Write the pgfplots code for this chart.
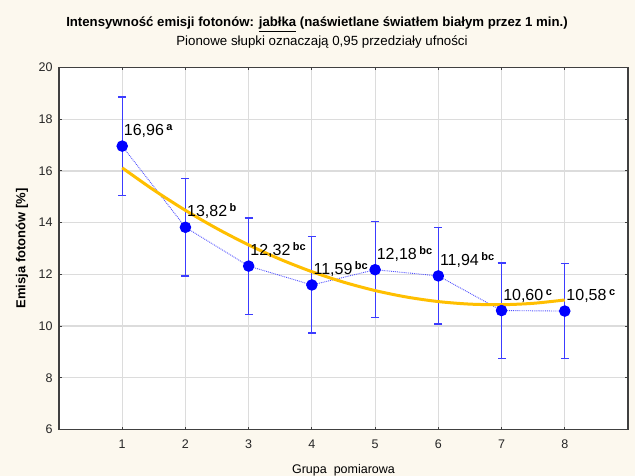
\documentclass[border=0pt]{standalone}
\usepackage{pgfplots}
\pgfplotsset{compat=1.18}
\usepackage{fontspec}
\setmainfont{Liberation Sans}
\definecolor{bg}{HTML}{FCF8EE}
\definecolor{gridc}{HTML}{DCDCDC}
\definecolor{ptblue}{HTML}{0000FF}
\definecolor{barblue}{HTML}{3C3CFF}
\definecolor{dotblue}{HTML}{5050FF}
\definecolor{fitc}{HTML}{FFBF00}
\newcommand{\lab}[2]{#1\hspace{2.5bp}\raisebox{5bp}{\fontsize{11bp}{11bp}\selectfont\bfseries #2}}
\begin{document}
\begin{tikzpicture}
\path[fill=bg, use as bounding box] (-59bp,-46.5bp) rectangle (576bp,429.5bp);
\node[font=\fontsize{13.2bp}{15bp}\selectfont\bfseries, anchor=center] at (258bp,405bp)
  {Intensywność emisji fotonów: \underline{jabłka} (naświetlane światłem białym przez 1 min.)};
\node[font=\fontsize{13.3bp}{15bp}\selectfont, anchor=center] at (263bp,387.5bp)
  {Pionowe słupki oznaczają 0,95 przedziały ufności};
\begin{axis}[
  at={(0,0)}, anchor=south west,
  scale only axis, width=569bp, height=362bp,
  xmin=0, xmax=9, ymin=6, ymax=20,
  xtick={1,...,8}, ytick={6,8,...,20},
  grid=major, grid style={gridc, line width=1.2bp},
  axis background/.style={fill=white},
  axis line style={draw=black!75, line width=1.2bp},
  tick align=inside, tick pos=both, major tick length=3bp,
  tick style={black!75, line width=1bp},
  /pgf/number format/assume math mode=true,
  ticklabel style={font=\fontsize{12.5bp}{14bp}\selectfont, text=black!85},
  xticklabel style={yshift=-6.5bp},
  yticklabel style={xshift=-3bp},
  xlabel={Grupa\ \ pomiarowa},
  ylabel={Emisja fotonów [\%]},
  xlabel style={at={(axis description cs:0.5,-0.1133)}, anchor=center, font=\fontsize{12.5bp}{14bp}\selectfont},
  ylabel style={at={(axis description cs:-0.065,0.5)}, anchor=center, rotate=0, font=\fontsize{13bp}{15bp}\selectfont\bfseries},
]
\addplot[dotblue, densely dotted, line width=0.9bp,
  mark=*, mark size=5.3bp, mark options={solid, fill=ptblue, draw=ptblue},
  error bars/.cd, y dir=both, y explicit,
  error bar style={barblue, line width=1.2bp, solid},
  error mark options={barblue, mark size=4bp, line width=1.2bp, solid, rotate=90}]
coordinates {
  (1,16.96) +- (0,1.90)
  (2,13.82) +- (0,1.88)
  (3,12.32) +- (0,1.86)
  (4,11.59) +- (0,1.86)
  (5,12.18) +- (0,1.86)
  (6,11.94) +- (0,1.86)
  (7,10.60) +- (0,1.84)
  (8,10.58) +- (0,1.84)
};
\addplot[fitc, line width=3bp, smooth] coordinates {
  (1.0,16.119) (1.5,15.260) (2.0,14.476) (2.5,13.769) (3.0,13.137)
  (3.5,12.582) (4.0,12.103) (4.5,11.700) (5.0,11.373) (5.5,11.122)
  (6.0,10.947) (6.5,10.849) (7.0,10.826) (7.5,10.880) (8.0,11.009)
};
\addplot[draw=none, mark=none, nodes near coords, point meta=explicit symbolic,
  nodes near coords style={anchor=base west, inner sep=0pt, yshift=10.5bp, xshift=1.5bp,
    font=\fontsize{16bp}{18bp}\selectfont, text=black}]
coordinates {
  (1,16.96) [\lab{16,96}{a}]
  (2,13.82) [\lab{13,82}{b}]
  (3,12.32) [\lab{12,32}{bc}]
  (4,11.59) [\lab{11,59}{bc}]
  (5,12.18) [\lab{12,18}{bc}]
  (6,11.94) [\lab{11,94}{bc}]
  (7,10.60) [\lab{10,60}{c}]
  (8,10.58) [\lab{10,58}{c}]
};
\end{axis}
\end{tikzpicture}
\end{document}
